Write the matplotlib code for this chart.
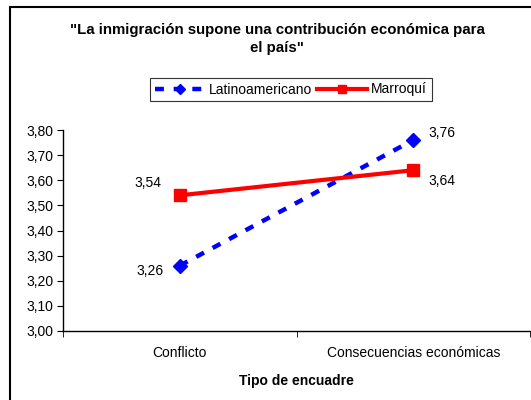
import matplotlib
matplotlib.use("Agg")
import matplotlib.pyplot as plt
from matplotlib.patches import Rectangle

categories = ["Conflicto", "Consecuencias económicas"]
latino = [3.26, 3.76]
marroqui = [3.54, 3.64]
yticks = [3.0, 3.1, 3.2, 3.3, 3.4, 3.5, 3.6, 3.7, 3.8]

plt.rcParams['font.family'] = ['Liberation Sans', 'DejaVu Sans']
FS = 10

fig = plt.figure(figsize=(5.31, 4.0), dpi=100)
W, H = 531, 400
fig.patches.append(Rectangle((10 / W, -0.1), 1.2, (400 - 7) / H + 0.1, transform=fig.transFigure,
                             fill=False, edgecolor='black', linewidth=1.5))

ax = fig.add_axes([63 / W, (H - 331) / H, (530 - 63) / W, (331 - 130) / H])
x = list(range(len(categories)))
ax.plot(x, latino, color='#0000FF', linestyle=(0, (2, 2.2)), linewidth=3.2, marker='D',
        markersize=7, label='Latinoamericano')
ax.plot(x, marroqui, color='#FF0000', linestyle='-', linewidth=3, marker='s',
        markersize=8, label='Marroquí')

ax.set_xlim(-0.5, 1.5)
ax.set_ylim(3.0, 3.8)
ax.set_yticks(yticks)
ax.set_yticklabels([f"{v:.2f}".replace('.', ',') for v in yticks], fontsize=FS)
ax.set_xticks(x)
ax.set_xticklabels(categories, fontsize=FS)
ax.tick_params(axis='x', which='major', length=0, pad=11)
ax.set_xticks([-0.5, 0.5, 1.5], minor=True)
ax.tick_params(axis='x', which='minor', length=4, direction='out')
ax.tick_params(axis='y', length=4, direction='out', pad=3)
for s in ['top', 'right']:
    ax.spines[s].set_visible(False)
ax.spines['left'].set_linewidth(1)
ax.spines['bottom'].set_linewidth(1)

ax.set_xlabel("Tipo de encuadre", fontsize=FS, fontweight='bold', labelpad=10)

def fmt(v):
    return f"{v:.2f}".replace('.', ',')

# data labels
ax.annotate(fmt(marroqui[0]), (x[0], marroqui[0]), xytext=(-13, 9),
            textcoords='offset points', ha='right', va='center', fontsize=FS)
ax.annotate(fmt(latino[0]), (x[0], latino[0]), xytext=(-12, -4),
            textcoords='offset points', ha='right', va='center', fontsize=FS)
ax.annotate(fmt(latino[1]), (x[1], latino[1]), xytext=(11, 5),
            textcoords='offset points', ha='left', va='center', fontsize=FS)
ax.annotate(fmt(marroqui[1]), (x[1], marroqui[1]), xytext=(11, -8),
            textcoords='offset points', ha='left', va='center', fontsize=FS)

fig.text(277 / W, 1 - 39 / H, '"La inmigración supone una contribución económica para\nel país"',
         ha='center', va='center', fontsize=10.8, fontweight='bold', linespacing=1.35)

leg = fig.legend(loc='center', bbox_to_anchor=(291 / W, 1 - 89.5 / H), ncol=2, fontsize=FS,
                 frameon=True, fancybox=False, edgecolor='black', handlelength=3.6,
                 columnspacing=0.3, handletextpad=0.3, borderpad=0.35, markerscale=0.8)
leg.get_frame().set_linewidth(0.8)

fig.savefig("out.png", dpi=100)
